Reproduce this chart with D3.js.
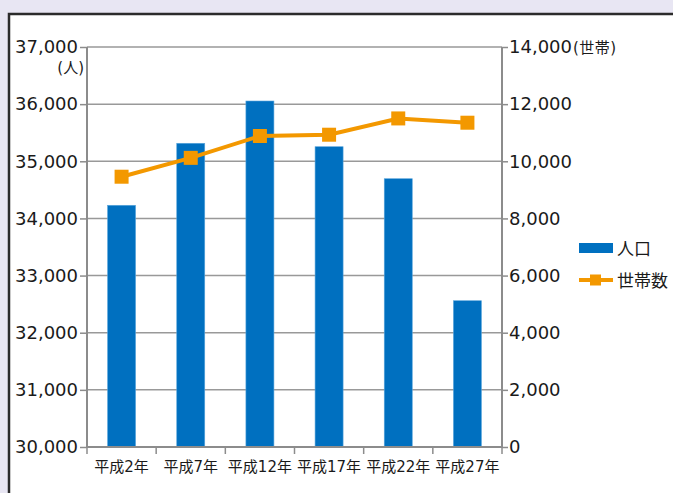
<!DOCTYPE html>
<html>
<head>
<meta charset="utf-8">
<script src="https://cdn.jsdelivr.net/npm/d3@7"></script>
<style>
  html, body { margin: 0; padding: 0; background: #e8e6f3; }
  svg { display: block; }
  text { font-family: "DejaVu Sans", "Noto Sans CJK JP", sans-serif; fill: #1a1a1a; }
</style>
</head>
<body>
<svg id="chart" width="673" height="493"></svg>
<script>
// data
var years = ["平成2年", "平成7年", "平成12年", "平成17年", "平成22年", "平成27年"]
var population = [34230, 35315, 36055, 35255, 34695, 32560]
var households = [9460, 10120, 10885, 10930, 11500, 11350]
var popTicks = [30000, 31000, 32000, 33000, 34000, 35000, 36000, 37000]
var hhTicks = [0, 2000, 4000, 6000, 8000, 10000, 12000, 14000]

var barColor = "#0070c0"
var lineColor = "#f39800"
var axisColor = "#8c8c8c"

var svg = d3.select("#chart")

// white panel with dark frame
svg.append("rect")
    .attr("x", 9).attr("y", 14)
    .attr("width", 680).attr("height", 500)
    .attr("fill", "#ffffff")
    .attr("stroke", "#2b2b2b")
    .attr("stroke-width", 2.5)

var plotL = 87, plotR = 502, plotT = 47, plotB = 447

var x = d3.scaleBand()
    .domain(years)
    .range([plotL, plotR])
    .paddingInner(0.595)
    .paddingOuter(0.2975)

var yL = d3.scaleLinear().domain([30000, 37000]).range([plotB, plotT])
var yR = d3.scaleLinear().domain([0, 14000]).range([plotB, plotT])

// gridlines
svg.append("g")
    .selectAll("line")
    .data(popTicks.slice(1))
    .enter()
    .append("line")
    .attr("x1", plotL).attr("x2", plotR)
    .attr("y1", d => yL(d)).attr("y2", d => yL(d))
    .attr("stroke", "#999999")
    .attr("stroke-width", 1.5)

// bars
svg.append("g")
    .selectAll("rect")
    .data(population)
    .enter()
    .append("rect")
    .attr("x", (d, i) => x(years[i]))
    .attr("y", d => yL(d))
    .attr("width", x.bandwidth())
    .attr("height", d => plotB - yL(d))
    .attr("fill", barColor)
    .attr("stroke", "#5aa6dc")
    .attr("stroke-width", 0.6)

// left axis
var axisL = d3.axisLeft(yL)
    .tickValues(popTicks)
    .tickSize(7)
    .tickPadding(2)
    .tickFormat(d3.format(","))
var gL = svg.append("g").attr("transform", "translate(" + plotL + ",0)").call(axisL)
gL.select(".domain").remove()
gL.selectAll("line").attr("stroke", axisColor).attr("stroke-width", 1.5)
gL.selectAll("text").attr("font-size", 18).attr("fill", "#1a1a1a")
    .attr("font-family", "DejaVu Sans, Noto Sans CJK JP, sans-serif")

// right axis
var axisR = d3.axisRight(yR)
    .tickValues(hhTicks)
    .tickSize(6)
    .tickPadding(1)
    .tickFormat(d3.format(","))
var gR = svg.append("g").attr("transform", "translate(" + plotR + ",0)").call(axisR)
gR.select(".domain").remove()
gR.selectAll("line").attr("stroke", axisColor).attr("stroke-width", 1.5)
gR.selectAll("text").attr("font-size", 18).attr("fill", "#1a1a1a")
    .attr("font-family", "DejaVu Sans, Noto Sans CJK JP, sans-serif")

// axis lines
svg.append("line")
    .attr("x1", plotL).attr("x2", plotL).attr("y1", plotT).attr("y2", plotB + 1)
    .attr("stroke", axisColor).attr("stroke-width", 2)
svg.append("line")
    .attr("x1", plotR).attr("x2", plotR).attr("y1", plotT).attr("y2", plotB + 1)
    .attr("stroke", axisColor).attr("stroke-width", 2)
svg.append("line")
    .attr("x1", plotL).attr("x2", plotR).attr("y1", plotB).attr("y2", plotB)
    .attr("stroke", axisColor).attr("stroke-width", 2)

// bottom ticks at category boundaries
var step = x.step()
svg.append("g")
    .selectAll("line")
    .data(d3.range(years.length + 1))
    .enter()
    .append("line")
    .attr("x1", i => plotL + i * step).attr("x2", i => plotL + i * step)
    .attr("y1", plotB).attr("y2", plotB + 7)
    .attr("stroke", axisColor).attr("stroke-width", 1.5)

// category labels
svg.append("g")
    .selectAll("text")
    .data(years)
    .enter()
    .append("text")
    .attr("x", d => x(d) + x.bandwidth() / 2)
    .attr("y", 472)
    .attr("text-anchor", "middle")
    .attr("font-size", 15)
    .text(d => d)

// unit labels
svg.append("text")
    .attr("x", 84).attr("y", 73)
    .attr("text-anchor", "end")
    .attr("font-size", 15)
    .text("(人)")
svg.append("text")
    .attr("x", 573).attr("y", 53)
    .attr("font-size", 15)
    .attr("letter-spacing", 0.5)
    .text("(世帯)")

// household line
var line = d3.line()
    .x((d, i) => x(years[i]) + x.bandwidth() / 2)
    .y(d => yR(d))

svg.append("path")
    .datum(households)
    .attr("d", line)
    .attr("fill", "none")
    .attr("stroke", lineColor)
    .attr("stroke-width", 4)

svg.append("g")
    .selectAll("rect")
    .data(households)
    .enter()
    .append("rect")
    .attr("x", (d, i) => x(years[i]) + x.bandwidth() / 2 - 7)
    .attr("y", d => yR(d) - 7)
    .attr("width", 14)
    .attr("height", 14)
    .attr("fill", lineColor)

// legend
var lg = svg.append("g").attr("transform", "translate(579,0)")
lg.append("rect")
    .attr("x", 0).attr("y", 243).attr("width", 34).attr("height", 10)
    .attr("fill", barColor)
lg.append("text")
    .attr("x", 38).attr("y", 255)
    .attr("font-size", 17)
    .text("人口")
lg.append("line")
    .attr("x1", 0).attr("x2", 34).attr("y1", 280).attr("y2", 280)
    .attr("stroke", lineColor).attr("stroke-width", 4)
lg.append("rect")
    .attr("x", 11).attr("y", 274.5).attr("width", 11).attr("height", 11)
    .attr("fill", lineColor)
lg.append("text")
    .attr("x", 38).attr("y", 287)
    .attr("font-size", 17)
    .text("世帯数")
</script>
</body>
</html>
